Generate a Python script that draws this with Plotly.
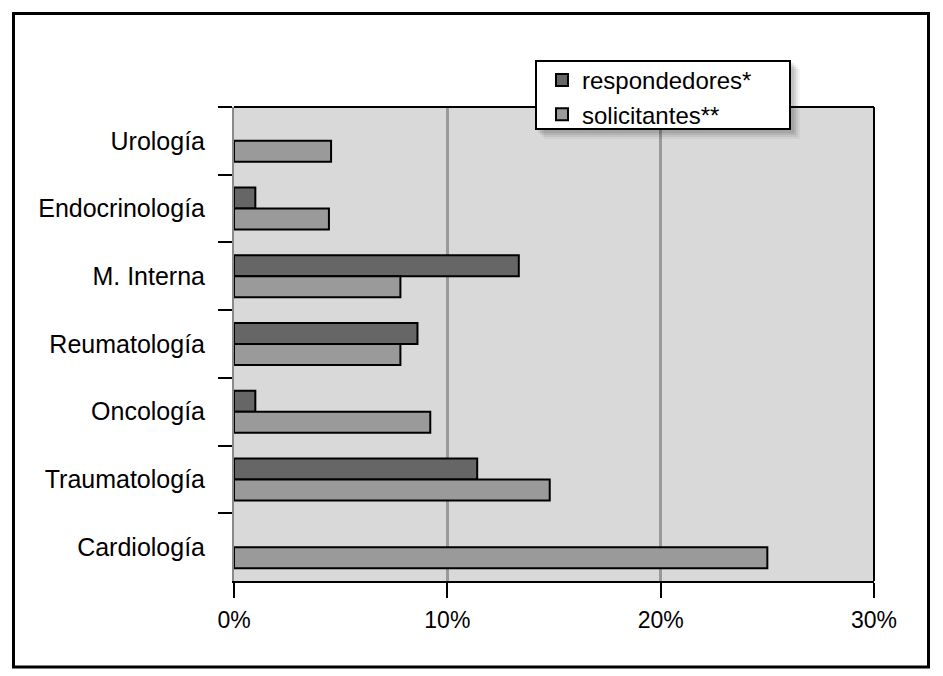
import plotly.graph_objects as go

categories = ["Urología", "Endocrinología", "M. Interna", "Reumatología",
              "Oncología", "Traumatología", "Cardiología"]
respondedores = [None, 1.0, 13.35, 8.6, 1.0, 11.4, None]
solicitantes = [4.55, 4.45, 7.8, 7.8, 9.2, 14.8, 25.0]
x_tickvals = [0, 10, 20, 30]
x_ticktext = ["0%", "10%", "20%", "30%"]

FONT = "Liberation Sans, Arial, Helvetica, sans-serif"

fig = go.Figure()
fig.add_trace(go.Bar(
    y=categories, x=respondedores, orientation="h", name="respondedores*",
    marker=dict(color="#666666", line=dict(color="#000000", width=2)),
))
fig.add_trace(go.Bar(
    y=categories, x=solicitantes, orientation="h", name="solicitantes**",
    marker=dict(color="#9a9a9a", line=dict(color="#000000", width=2)),
))

# page body has an 8px margin: the figure starts at (8, 8) in the window
OFF = 8
W, H = 943 - OFF, 676 - OFF
# plot area in window pixels: x 234..874, y 107..581
L, R, T, B = 234, 874, 107, 581
pw, ph = R - L, B - T

def px(x):
    return (x - L) / pw

def py(y):
    return (B - y) / ph

shapes = [
    # outer frame
    dict(type="rect", xref="paper", yref="paper",
         x0=px(13.5), x1=px(928.5), y0=py(667), y1=py(13.5),
         line=dict(color="#000000", width=3), layer="below"),
    # top border
    dict(type="line", xref="paper", yref="paper", x0=0, x1=1, y0=1, y1=1,
         line=dict(color="#000000", width=2)),
    # right border
    dict(type="line", xref="paper", yref="paper", x0=1, x1=1, y0=0, y1=1,
         line=dict(color="#000000", width=2)),
]
# legend soft shadow
for d, op in [(9, 0.04), (7, 0.06), (5, 0.08), (3, 0.08)]:
    shapes.append(dict(type="rect", xref="paper", yref="paper",
                       x0=px(535 + d), x1=px(791 + d), y0=py(130 + d), y1=py(60 + d),
                       fillcolor="rgba(0,0,0,%s)" % op, line=dict(width=0), layer="above"))
# legend box
shapes.append(dict(type="rect", xref="paper", yref="paper",
                   x0=px(536), x1=px(790), y0=py(129), y1=py(61),
                   fillcolor="#ffffff", line=dict(color="#000000", width=2), layer="above"))

fig.update_layout(
    width=W, height=H,
    margin=dict(l=L - OFF, r=W - (R - OFF), t=T - OFF, b=H - (B - OFF), autoexpand=False),
    paper_bgcolor="#ffffff",
    plot_bgcolor="#d9d9d9",
    barmode="group",
    bargap=0.38,
    bargroupgap=0,
    font=dict(family=FONT, size=24, color="#000000"),
    showlegend=True,
    legend=dict(
        x=px(542), y=py(58), xanchor="left", yanchor="top",
        bgcolor="rgba(0,0,0,0)", borderwidth=0,
        font=dict(family=FONT, size=24, color="#000000"),
        tracegroupgap=0, itemwidth=30,
    ),
    shapes=shapes,
    xaxis=dict(
        range=[0, 30], tickvals=x_tickvals, ticktext=x_ticktext,
        showgrid=True, gridcolor="#9a9a9a", gridwidth=3,
        zeroline=False, showline=True, linecolor="#000000", linewidth=2,
        ticks="outside", ticklen=15, tickwidth=2, tickcolor="#000000",
        tickfont=dict(family=FONT, size=23, color="#000000"),
        ticklabelstandoff=2, fixedrange=True,
    ),
    yaxis=dict(
        categoryorder="array", categoryarray=categories, autorange="reversed",
        showgrid=False, zeroline=False,
        showline=True, linecolor="#8a8a8a", linewidth=2,
        ticks="outside", tickson="boundaries", ticklen=14, tickwidth=2,
        tickcolor="#000000",
        tickfont=dict(family=FONT, size=25, color="#000000"),
        ticklabelstandoff=22, fixedrange=True,
    ),
)

fig.write_html("out.html")
